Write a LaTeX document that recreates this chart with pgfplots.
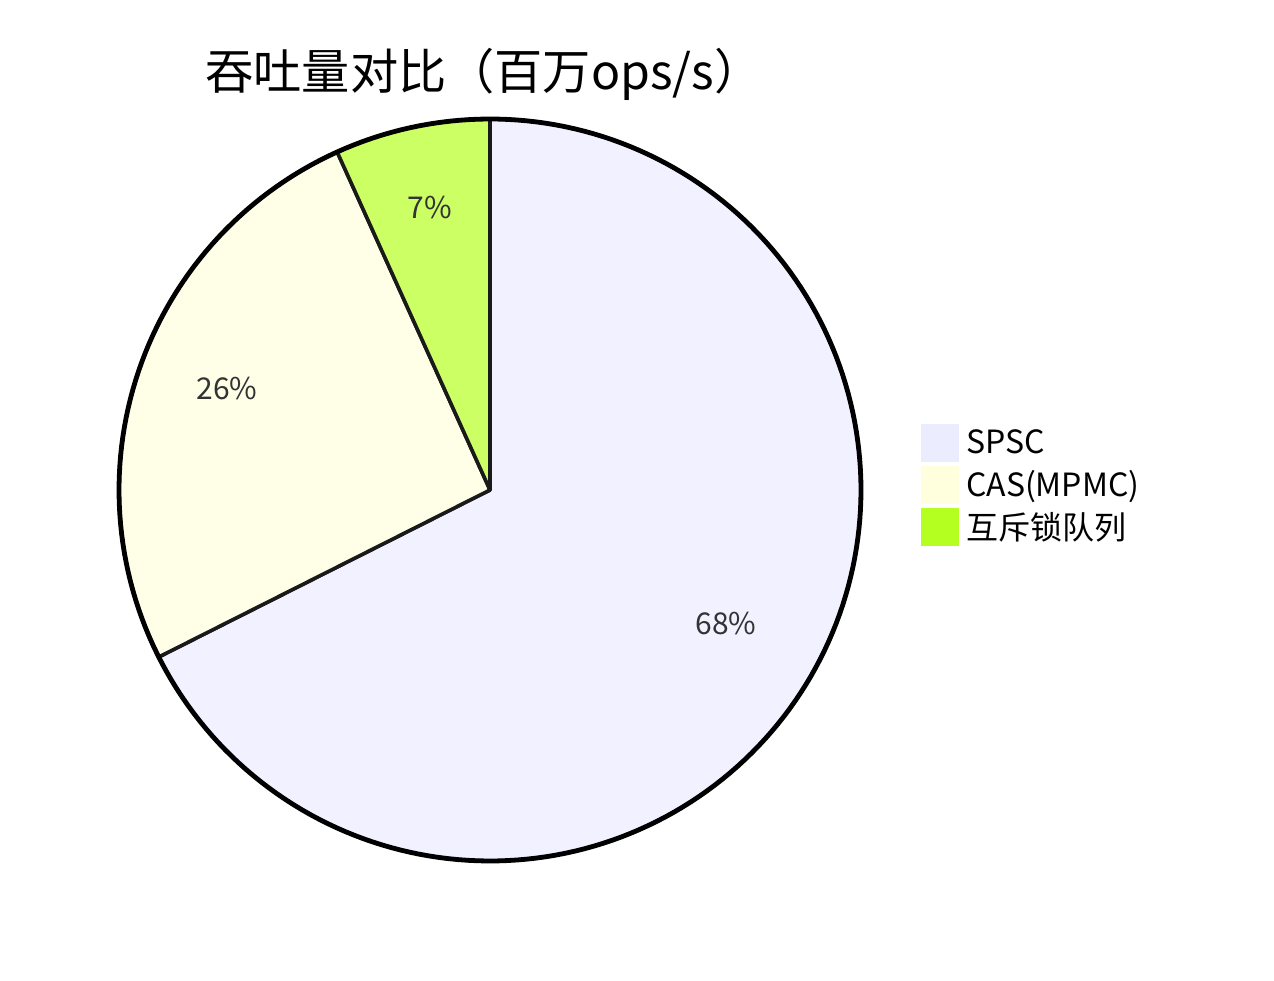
\documentclass[border=0pt]{standalone}
\usepackage{pgfplots}
\pgfplotsset{compat=1.18}
\usepackage{fontspec}
\setmainfont{Noto Sans CJK SC}

\definecolor{sliceA}{HTML}{F1F1FF}
\definecolor{sliceB}{HTML}{FFFFE8}
\definecolor{sliceC}{HTML}{CBFF63}
\definecolor{legA}{HTML}{ECECFF}
\definecolor{legB}{HTML}{FFFFDE}
\definecolor{legC}{HTML}{B5FF20}
\definecolor{edge}{HTML}{1A1A1A}
\definecolor{lbl}{HTML}{333333}

\begin{document}
\begin{tikzpicture}
% throughput, millions ops/s
\def\vA{50}  % SPSC
\def\vB{19}  % CAS(MPMC)
\def\vC{5}   % mutex queue
\pgfmathsetmacro{\tot}{\vA+\vB+\vC}
\pgfmathsetmacro{\aA}{90-360*(\vA/\tot)}
\pgfmathsetmacro{\aB}{\aA-360*(\vB/\tot)}
\begin{axis}[
  width=637pt, height=490pt, scale only axis,
  xmin=0, xmax=1274, ymin=0, ymax=980,
  hide axis, clip=false,
  legend style={at={(axis cs:921,556)}, anchor=north west,
    draw=none, fill=none, inner sep=0pt, row sep=2pt,
    font=\fontsize{16}{19}\selectfont},
  legend cell align=left,
]
\addplot[forget plot, fill=sliceA, draw=edge, line width=1.8pt, line join=round,
  domain=\aA:90, samples=150, variable=\t]
  ({490+371*cos(\t)}, {490+371*sin(\t)}) -- (axis cs:490,490) -- cycle;
\addplot[forget plot, fill=sliceB, draw=edge, line width=1.8pt, line join=round,
  domain=\aB:\aA, samples=80, variable=\t]
  ({490+371*cos(\t)}, {490+371*sin(\t)}) -- (axis cs:490,490) -- cycle;
\addplot[forget plot, fill=sliceC, draw=edge, line width=1.8pt, line join=round,
  domain=-270:\aB, samples=30, variable=\t]
  ({490+371*cos(\t)}, {490+371*sin(\t)}) -- (axis cs:490,490) -- cycle;
% outer rim
\addplot[forget plot, draw=black, line width=2.4pt, domain=0:360, samples=240, variable=\t]
  ({490+371*cos(\t)}, {490+371*sin(\t)});

\addlegendimage{legend image code/.code={\fill[legA] (0pt,-9.25pt) rectangle (18.5pt,9.25pt);}}
\addlegendentry{\hspace{1.5pt}SPSC}
\addlegendimage{legend image code/.code={\fill[legB] (0pt,-9.25pt) rectangle (18.5pt,9.25pt);}}
\addlegendentry{\hspace{1.5pt}CAS(MPMC)}
\addlegendimage{legend image code/.code={\fill[legC] (0pt,-9.25pt) rectangle (18.5pt,9.25pt);}}
\addlegendentry{\hspace{1.5pt}互斥锁队列}

\node[text=lbl, font=\fontsize{15}{18}\selectfont] at (axis cs:726,356) {68\%};
\node[text=lbl, font=\fontsize{15}{18}\selectfont] at (axis cs:227,591) {26\%};
\node[text=lbl, font=\fontsize{15}{18}\selectfont] at (axis cs:430,772) {7\%};
\node[font=\fontsize{24.1}{29}\selectfont] at (axis cs:484,906) {吞吐量对比（百万ops/s）};
\path (rel axis cs:0,0) rectangle (rel axis cs:1,1);
\end{axis}
\end{tikzpicture}
\end{document}
